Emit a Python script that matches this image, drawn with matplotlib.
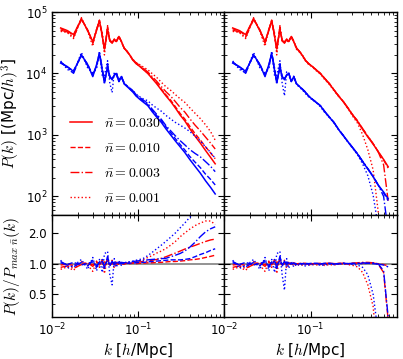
import numpy as np
import matplotlib
matplotlib.use('Agg')
import matplotlib.pyplot as plt
from matplotlib.ticker import FixedLocator, LogLocator, FormatStrFormatter, NullFormatter

# k bins [h/Mpc]
k = [0.0126, 0.0150, 0.0178, 0.0220, 0.0260, 0.0298, 0.0330, 0.0356, 0.0385, 0.0407,
     0.0443, 0.0470, 0.0500, 0.0530, 0.0560, 0.0600, 0.0640, 0.0690, 0.0740, 0.0800,
     0.0870, 0.0950, 0.105, 0.116, 0.130, 0.146, 0.165, 0.187, 0.212, 0.240,
     0.272, 0.310, 0.350, 0.400, 0.460, 0.530, 0.610, 0.700, 0.790]

# P(k) of the densest sample (nbar=0.030), left = raw, right = shot noise removed
p_red_left = [5.5e4, 5.0e4, 4.3e4, 7.7e4, 5.0e4, 3.3e4, 5.0e4, 7.3e4, 4.0e4, 2.5e4,
              5.2e4, 3.5e4, 3.1e4, 3.6e4, 3.3e4, 4.0e4, 3.3e4, 2.6e4, 2.3e4, 2.0e4,
              1.65e4, 1.45e4, 1.3e4, 1.15e4, 1.0e4, 8.3e3, 6.8e3, 5.4e3, 4.3e3, 3.5e3,
              2.75e3, 2.1e3, 1.7e3, 1.27e3, 960, 740, 560, 430, 340]
p_blue_left = [1.48e4, 1.3e4, 1.08e4, 2.0e4, 1.4e4, 8.9e3, 1.4e4, 2.1e4, 1.1e4, 7.4e3,
               1.22e4, 9.0e3, 7.9e3, 9.5e3, 1.0e4, 7.4e3, 8.9e3, 6.8e3, 6.2e3, 5.6e3,
               5.0e3, 4.3e3, 3.8e3, 3.4e3, 3.0e3, 2.4e3, 1.95e3, 1.6e3, 1.25e3, 1.0e3,
               800, 640, 520, 400, 310, 240, 180, 140, 110]
p_red_right = [5.5e4, 5.0e4, 4.3e4, 7.7e4, 5.0e4, 3.3e4, 5.0e4, 7.3e4, 4.0e4, 2.5e4,
               5.2e4, 3.5e4, 3.1e4, 3.6e4, 3.3e4, 4.0e4, 3.3e4, 2.6e4, 2.3e4, 2.0e4,
               1.65e4, 1.45e4, 1.3e4, 1.15e4, 1.0e4, 8.3e3, 6.8e3, 5.4e3, 4.27e3, 3.47e3,
               2.72e3, 2.07e3, 1.67e3, 1.24e3, 930, 710, 530, 400, 305]
p_blue_right = [1.48e4, 1.3e4, 1.08e4, 2.0e4, 1.4e4, 8.9e3, 1.4e4, 2.1e4, 1.1e4, 7.4e3,
                1.22e4, 9.0e3, 7.9e3, 9.5e3, 1.0e4, 7.4e3, 8.9e3, 6.8e3, 6.2e3, 5.6e3,
                5.0e3, 4.3e3, 3.8e3, 3.4e3, 3.0e3, 2.4e3, 1.95e3, 1.6e3, 1.22e3, 970,
                770, 610, 490, 370, 280, 210, 152, 118, 92]

# ratio P(k)/P_max(k) for nbar = 0.010, 0.003, 0.001
nan = np.nan
r_red_left = [
    [0.97, 0.99, 0.96, 1.02, 1.00, 0.98, 1.03, 1.01, 0.97, 1.04, 1.02, 0.98, 1.00, 1.01, 0.99, 1.02, 1.00, 0.99, 1.01, 1.00,
     1.01, 1.00, 1.01, 1.01, 1.02, 1.02, 1.03, 1.03, 1.04, 1.05, 1.05, 1.06, 1.07, 1.09, 1.10, 1.12, 1.15, 1.18, 1.21],
    [0.92, 0.95, 0.90, 0.98, 1.02, 0.94, 1.05, 0.97, 1.08, 0.93, 1.10, 0.96, 1.04, 0.99, 1.03, 0.98, 1.02, 1.00, 1.01, 1.02,
     1.02, 1.03, 1.04, 1.05, 1.06, 1.08, 1.10, 1.13, 1.17, 1.22, 1.27, 1.33, 1.39, 1.45, 1.51, 1.58, 1.65, 1.71, 1.74],
    [0.88, 0.93, 0.86, 1.05, 0.97, 0.84, 1.06, 0.92, 1.12, 0.80, 1.15, 0.95, 1.08, 0.90, 1.05, 0.97, 1.03, 0.98, 1.02, 1.01,
     1.03, 1.04, 1.07, 1.10, 1.15, 1.20, 1.27, 1.33, 1.41, 1.52, 1.65, 1.84, 2.00, 2.18, 2.36, 2.50, 2.62, 2.62, 2.42]]
r_blue_left = [
    [1.02, 0.98, 1.03, 0.97, 1.01, 1.04, 0.96, 1.02, 1.05, 0.95, 1.08, 0.99, 1.03, 0.98, 1.02, 1.00, 1.01, 1.00, 1.01, 1.01,
     1.02, 1.02, 1.03, 1.03, 1.04, 1.05, 1.06, 1.07, 1.08, 1.09, 1.09, 1.09, 1.10, 1.12, 1.17, 1.23, 1.28, 1.35, 1.40],
    [1.05, 0.97, 0.93, 1.03, 0.95, 1.08, 0.92, 1.04, 1.10, 0.90, 1.18, 0.94, 1.06, 0.97, 1.04, 1.01, 1.03, 1.02, 1.03, 1.04,
     1.05, 1.06, 1.07, 1.08, 1.09, 1.10, 1.11, 1.12, 1.13, 1.17, 1.21, 1.26, 1.33, 1.45, 1.62, 1.84, 2.05, 2.20, 2.30],
    [1.08, 0.90, 0.95, 1.10, 0.88, 1.15, 0.85, 1.10, 0.82, 1.25, 1.32, 0.78, 0.62, 1.12, 0.92, 1.08, 0.96, 1.05, 1.02, 1.04,
     1.06, 1.08, 1.10, 1.13, 1.20, 1.29, 1.40, 1.52, 1.66, 1.82, 2.00, 2.25, 2.50, 2.85, 3.10, 3.35, 3.55, 3.70, 3.80]]
r_red_right = [
    [0.97, 0.99, 0.96, 1.02, 1.00, 0.98, 1.03, 1.01, 0.97, 1.04, 1.02, 0.98, 1.00, 1.01, 0.99, 1.02, 1.00, 0.99, 1.01, 1.00,
     1.01, 1.00, 1.00, 1.00, 1.01, 1.00, 1.01, 1.00, 1.01, 1.00, 1.00, 1.01, 1.00, 1.01, 1.02, 1.01, 1.00, 0.98, 0.95],
    [0.92, 0.95, 0.90, 0.98, 1.02, 0.94, 1.05, 0.97, 1.08, 0.93, 1.10, 0.96, 1.04, 0.99, 1.03, 0.98, 1.02, 0.99, 1.00, 1.01,
     1.00, 0.99, 1.00, 1.00, 0.99, 1.00, 1.01, 1.00, 1.00, 1.01, 1.00, 1.01, 1.02, 1.03, 1.03, 1.02, 0.98, 0.82, 0.28],
    [0.88, 0.93, 0.86, 1.05, 0.97, 0.84, 1.06, 0.92, 1.12, 0.80, 1.15, 0.95, 1.08, 0.90, 1.05, 0.96, 1.00, 0.95, 0.98, 0.97,
     0.98, 0.97, 0.98, 0.97, 0.98, 0.96, 0.98, 0.97, 0.99, 1.00, 0.98, 0.96, 0.93, 0.82, 0.62, 0.38, 0.10, nan, nan]]
r_blue_right = [
    [1.02, 0.98, 1.03, 0.97, 1.01, 1.04, 0.96, 1.02, 1.05, 0.95, 1.08, 0.99, 1.03, 0.98, 1.02, 1.00, 1.01, 1.00, 1.00, 1.00,
     1.01, 1.00, 1.00, 1.01, 1.00, 1.00, 1.01, 1.00, 1.00, 1.01, 1.00, 1.00, 1.01, 1.00, 1.01, 1.00, 0.99, 0.97, 0.93],
    [1.05, 0.97, 0.93, 1.03, 0.95, 1.08, 0.92, 1.04, 1.10, 0.90, 1.18, 0.94, 1.06, 0.97, 1.04, 0.99, 1.01, 0.98, 1.00, 1.01,
     0.99, 1.00, 1.01, 1.00, 0.99, 1.01, 1.00, 0.99, 1.00, 1.01, 1.00, 1.01, 1.00, 1.02, 1.01, 1.02, 0.99, 0.85, 0.30],
    [1.08, 0.90, 0.95, 1.10, 0.88, 1.15, 0.85, 1.10, 0.82, 1.25, 1.32, 0.78, 0.55, 1.12, 0.90, 1.05, 0.93, 1.00, 0.96, 0.98,
     0.95, 0.97, 0.98, 1.00, 0.96, 0.97, 0.99, 0.98, 1.00, 0.99, 1.00, 0.98, 0.97, 0.92, 0.78, 0.50, 0.20, nan, nan]]

nbar_labels = ['0.030', '0.010', '0.003', '0.001']
styles = ['-', '--', '-.', ':']

plt.rcParams['mathtext.fontset'] = 'cm'
plt.rcParams['font.size'] = 8.5
plt.rcParams['xtick.direction'] = 'in'
plt.rcParams['ytick.direction'] = 'in'
plt.rcParams['xtick.top'] = True
plt.rcParams['ytick.right'] = True
plt.rcParams['xtick.major.size'] = 4
plt.rcParams['ytick.major.size'] = 4
plt.rcParams['xtick.minor.size'] = 2
plt.rcParams['ytick.minor.size'] = 2
plt.rcParams['axes.linewidth'] = 1.0


# style the shared log k axis
def setup_x(ax, show_labels):
	ax.set_xscale('log')
	ax.set_xlim(0.01, 1.0)
	ax.xaxis.set_major_locator(FixedLocator([0.01, 0.1]))
	ax.xaxis.set_minor_locator(LogLocator(base=10, subs=np.arange(2, 10)))
	if not show_labels:
		ax.xaxis.set_major_formatter(NullFormatter())
	ax.xaxis.set_minor_formatter(NullFormatter())


# draw one column (top P(k), bottom ratio)
def plot_column(ax_top, ax_bot, p_red, p_blue, r_red, r_blue):
	k_arr = np.array(k)
	for p, ratios, c in [(p_red, r_red, 'r'), (p_blue, r_blue, 'b')]:
		p = np.array(p)
		ax_top.plot(k_arr, p, ls=styles[0], color=c, lw=1.1,
					label=r'$\bar{n}=%s$' % nbar_labels[0])
		for i in range(3):
			r = np.array(ratios[i])
			ax_top.plot(k_arr, p * r, ls=styles[i + 1], color=c, lw=1.0,
						label=r'$\bar{n}=%s$' % nbar_labels[i + 1])
			ax_bot.plot(k_arr, r, ls=styles[i + 1], color=c, lw=1.0)
	ax_bot.axhline(1.0, color='gray', lw=1.2, zorder=0)

	ax_top.set_yscale('log')
	ax_top.set_ylim(50, 1e5)
	setup_x(ax_top, False)

	ax_bot.set_yscale('log')
	ax_bot.set_ylim(0.3, 3.0)
	ax_bot.yaxis.set_major_locator(FixedLocator([0.5, 1.0, 2.0]))
	ax_bot.yaxis.set_major_formatter(FormatStrFormatter('%.1f'))
	ax_bot.yaxis.set_minor_locator(LogLocator(base=10, subs=np.arange(2, 10)))
	ax_bot.yaxis.set_minor_formatter(NullFormatter())
	setup_x(ax_bot, True)
	ax_bot.set_xlabel(r'$k$ [$h$/Mpc]', fontsize=11)
	ax_bot.xaxis.set_label_coords(0.5, -0.24)


fig = plt.figure(figsize=(4.03, 3.59), dpi=100)
x0, xm, x1 = 52 / 403, 224 / 403, 397 / 403
yb, ym, yt = 1 - 317 / 359, 1 - 215 / 359, 1 - 12 / 359
ax_tl = fig.add_axes([x0, ym, xm - x0, yt - ym])
ax_bl = fig.add_axes([x0, yb, xm - x0, ym - yb])
ax_tr = fig.add_axes([xm, ym, x1 - xm, yt - ym])
ax_br = fig.add_axes([xm, yb, x1 - xm, ym - yb])

plot_column(ax_tl, ax_bl, p_red_left, p_blue_left, r_red_left, r_blue_left)
plot_column(ax_tr, ax_br, p_red_right, p_blue_right, r_red_right, r_blue_right)

# right column has no y labels
ax_tr.yaxis.set_major_formatter(NullFormatter())
ax_br.yaxis.set_major_formatter(NullFormatter())

ax_tl.set_ylabel(r'$P(k)$ [(Mpc/$h)^3$]', fontsize=11)
ax_tl.yaxis.set_label_coords(-0.175, 0.5)
ax_bl.set_ylabel(r'$P(k)/P_{max\ \bar{n}}(k)$', fontsize=11)
ax_bl.yaxis.set_label_coords(-0.175, 0.5)

# legend: only the red lines
h, l = ax_tl.get_legend_handles_labels()
ax_tl.legend(h[:4], l[:4], loc='lower left', bbox_to_anchor=(0.03, -0.01), frameon=False,
			 fontsize=10, handlelength=1.6, labelspacing=0.78, handletextpad=0.9)

plt.savefig('out.png', dpi=100)
